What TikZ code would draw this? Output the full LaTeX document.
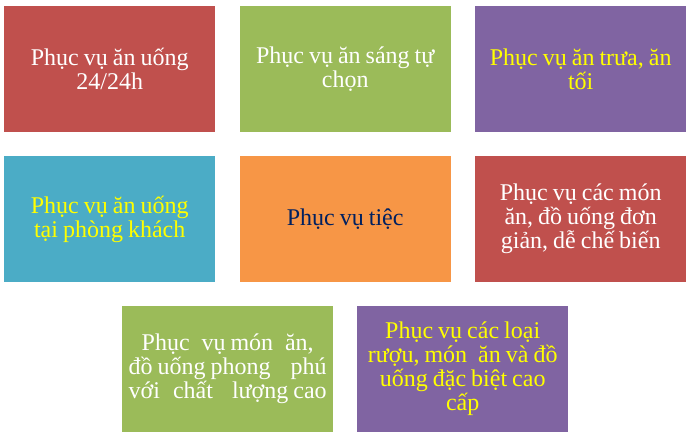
\documentclass[tikz,border=0pt]{standalone}
\usepackage{fontspec}
\setmainfont{Liberation Serif}
\definecolor{cred}{HTML}{C0504D}
\definecolor{cgreen}{HTML}{9BBB59}
\definecolor{cpurple}{HTML}{8064A2}
\definecolor{cteal}{HTML}{4BACC6}
\definecolor{corange}{HTML}{F79646}
\definecolor{cyel}{HTML}{FFFF00}
\definecolor{cnavy}{HTML}{002060}
\newcommand\ns{\centering\spaceskip=5pt plus 30pt minus 1pt\relax}
\begin{document}
\begin{tikzpicture}[x=1pt,y=-1pt,
  tile/.style={draw=none,minimum width=211pt,minimum height=125.5pt,inner sep=0pt,anchor=north west,
    font=\fontsize{24}{24}\selectfont,text width=209pt},
  wt/.style={text=white},
  yt/.style={text=cyel},
  nt/.style={text=cnavy}]
\useasboundingbox (0,0) rectangle (691,438);
\fill[white] (0,0) rectangle (691,438);
\node[tile,fill=cred,wt] (b1) at (4,6) {\ns Phục vụ ăn uống\\24/24h\par};
\node[tile,fill=cgreen,wt] (b2) at (239.5,6) {\ns Phục vụ ăn sáng tự\\chọn\par};
\node[tile,fill=cpurple,yt] (b3) at (475,6) {\ns Phục vụ ăn trưa, ăn\\tối\par};
\node[tile,fill=cteal,yt] (b4) at (4,156) {\ns Phục vụ ăn uống\\tại phòng khách\par};
\node[tile,fill=corange,nt] (b5) at (239.5,156) {\ns Phục vụ tiệc\par};
\node[tile,fill=cred,wt] (b6) at (475,156) {\ns Phục vụ các món\\ăn, đồ uống đơn\\giản, dễ chế biến\par};
\node[tile,fill=cgreen,wt] (b7) at (122,306) {\ns\makebox[172pt]{Phục\hfill vụ món\hfill ăn,}\\\makebox[198pt]{đồ uống phong\hfill phú}\\\makebox[198pt]{với\hspace{13pt}chất\hfill lượng cao}\par};
\node[tile,fill=cpurple,yt] (b8) at (357,306) {\ns Phục vụ các loại\\rượu, món\hspace{11pt}ăn và đồ\\uống đặc biệt cao\\cấp\par};
\end{tikzpicture}
\end{document}
